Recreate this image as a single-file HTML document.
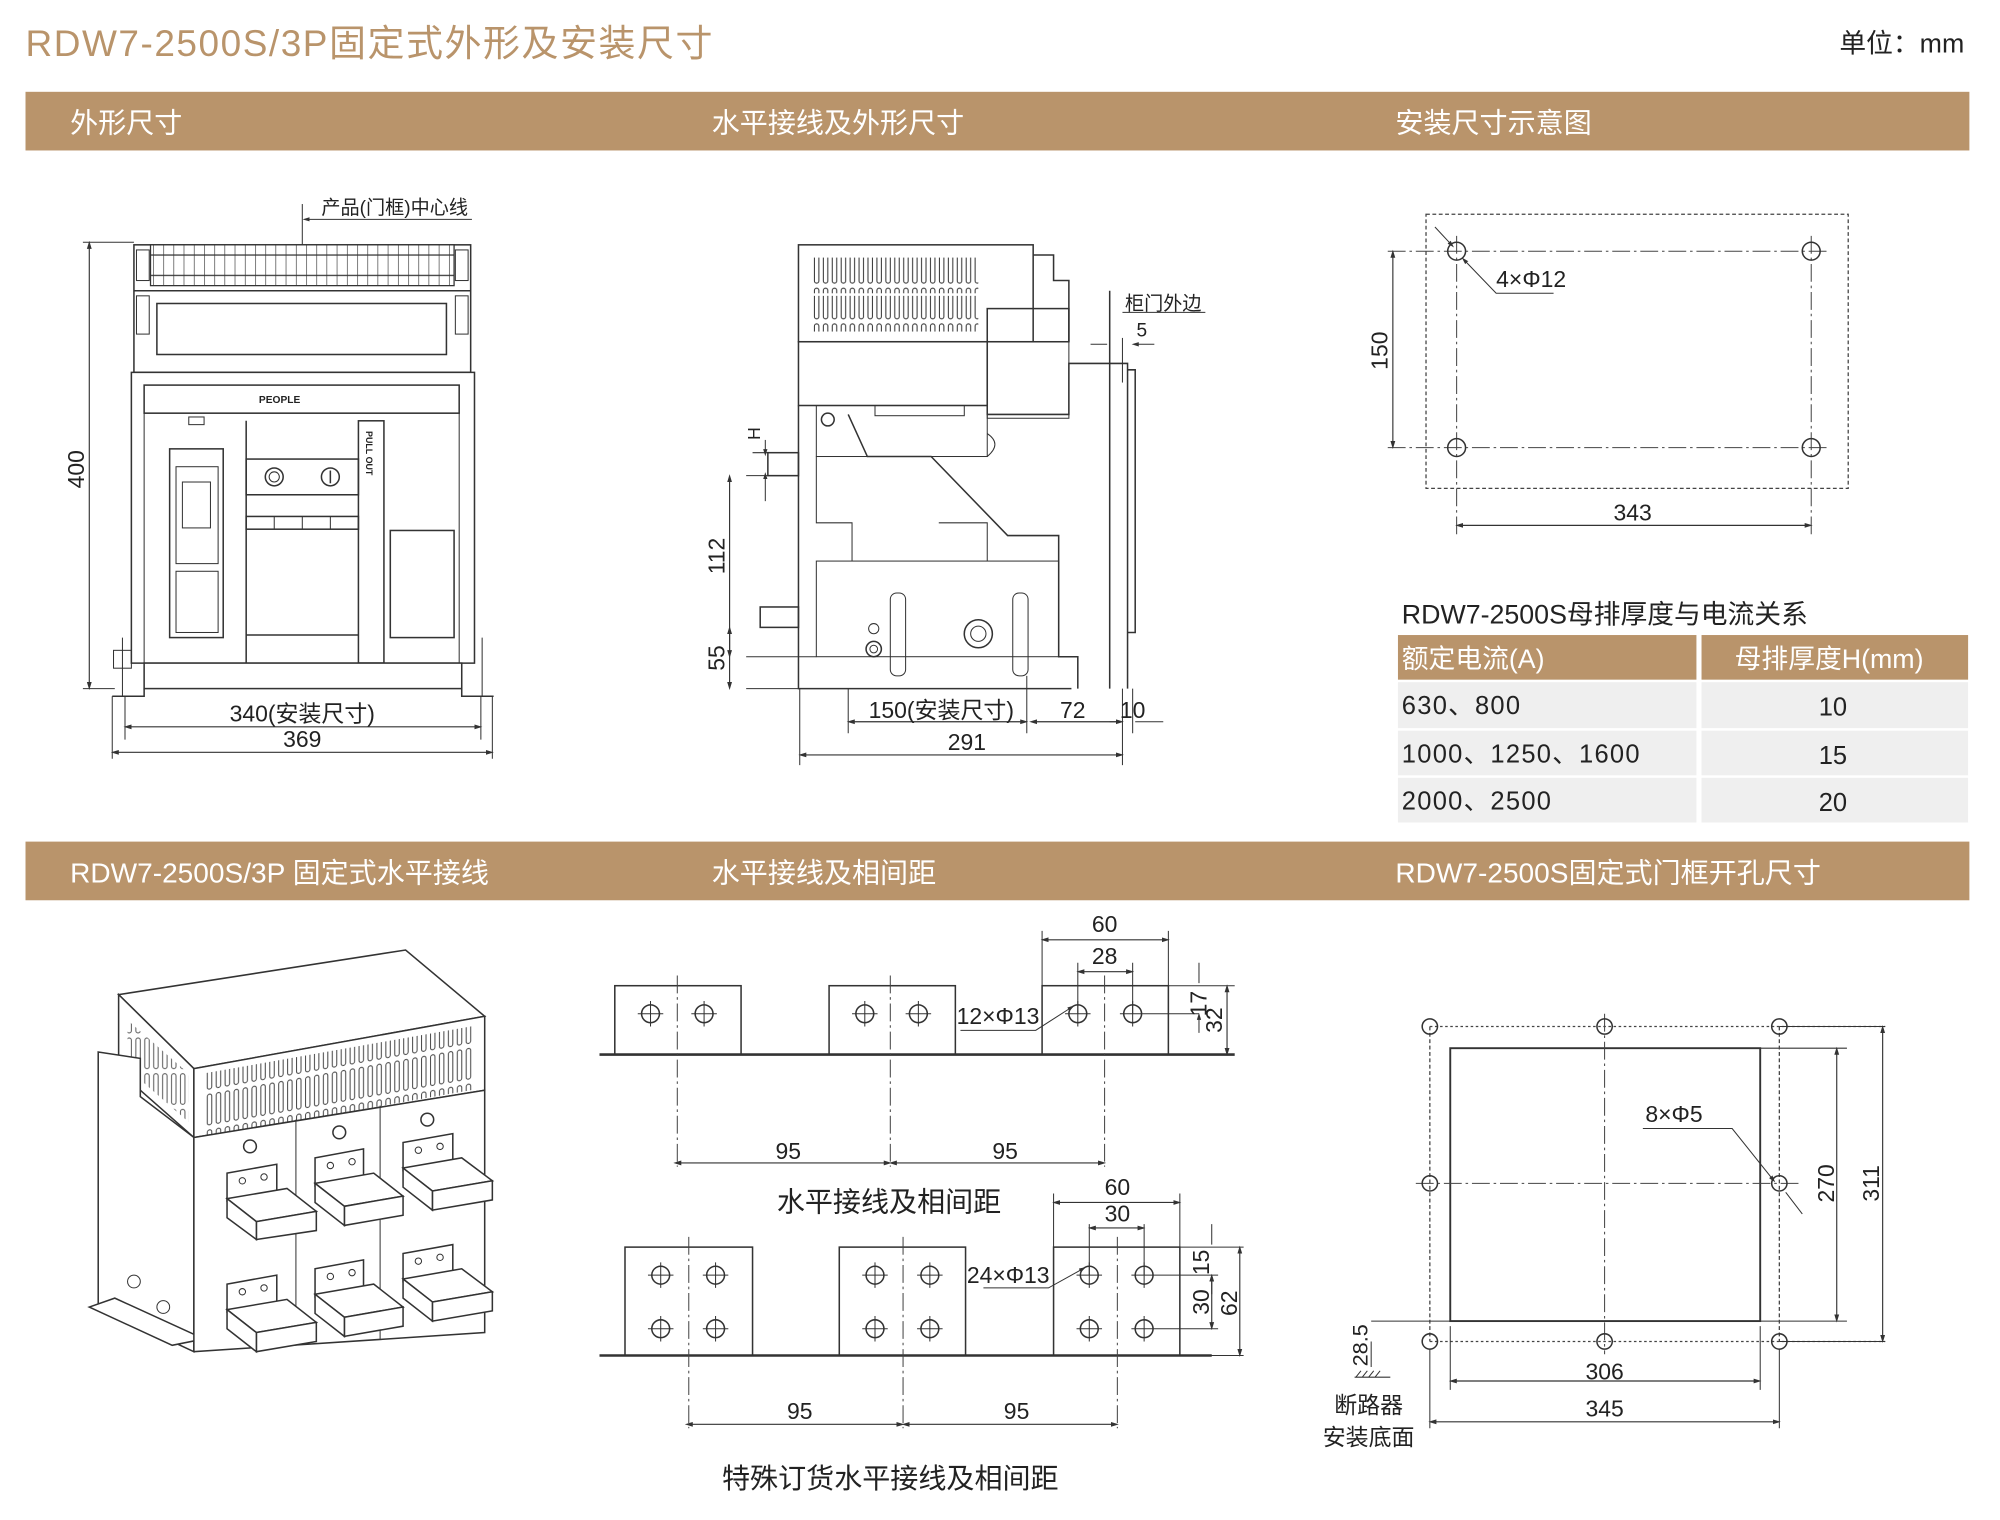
<!DOCTYPE html>
<html><head><meta charset="utf-8"><style>
html,body{margin:0;padding:0;background:#fff;}
svg{display:block;}
text{font-family:"Liberation Sans","Noto Sans CJK SC",sans-serif;fill:#222;}
.l{stroke:#333;stroke-width:1.2;fill:none;}
.lt{stroke:#333;stroke-width:0.8;fill:none;}
.f{stroke:#333;stroke-width:1.2;fill:#fff;}
.dd{stroke:#444;stroke-width:0.8;fill:none;stroke-dasharray:14 3 2 3;}
.ds{stroke:#444;stroke-width:1;fill:none;stroke-dasharray:3 2;}
.dim{stroke:#333;stroke-width:0.9;fill:none;marker-start:url(#a);marker-end:url(#a);}
.t{font-size:18px;}
</style></head><body>
<svg width="2000" height="1520" viewBox="0 0 1568 1192" preserveAspectRatio="none" xmlns="http://www.w3.org/2000/svg">
<defs>
<marker id="a" viewBox="0 0 10 10" refX="5" refY="5" markerWidth="7" markerHeight="7" orient="auto-start-reverse"><path d="M0,2 L10,5 L0,8 Z" fill="#333"/></marker>
<pattern id="grid" width="8" height="16" patternUnits="userSpaceOnUse"><rect width="8" height="16" fill="#fff"/><path d="M0,0V16M0,8H8" stroke="#333" stroke-width="1"/></pattern>
<pattern id="slot2" width="7" height="28" patternUnits="userSpaceOnUse"><rect x="1.5" y="2" width="3.5" height="24" rx="1.7" fill="none" stroke="#333" stroke-width="0.8"/></pattern>
</defs>

<text x="20" y="44" style="font-size:29px;fill:#b9946b;letter-spacing:1.2px">RDW7-2500S/3P固定式外形及安装尺寸</text>
<text x="1540" y="41" text-anchor="end" style="font-size:21px;">单位：mm</text>

<rect x="20" y="72" width="1524" height="46" fill="#b9946b"/>
<text x="55" y="104" style="font-size:22px;fill:#fff">外形尺寸</text>
<text x="558" y="104" style="font-size:22px;fill:#fff">水平接线及外形尺寸</text>
<text x="1094" y="104" style="font-size:22px;fill:#fff">安装尺寸示意图</text>
<rect x="20" y="660" width="1524" height="46" fill="#b9946b"/>
<text x="55" y="692" style="font-size:22px;fill:#fff">RDW7-2500S/3P  固定式水平接线</text>
<text x="558" y="692" style="font-size:22px;fill:#fff">水平接线及相间距</text>
<text x="1094" y="692" style="font-size:22px;fill:#fff">RDW7-2500S固定式门框开孔尺寸</text>

<!-- Front view -->
<g>
<rect x="105" y="192" width="264" height="100" class="f"/>
<rect x="118" y="192" width="238" height="32" fill="url(#grid)" stroke="#333"/>
<rect x="107" y="196" width="10" height="24" class="lt"/><rect x="357" y="196" width="10" height="24" class="lt"/>
<line x1="105" y1="228" x2="369" y2="228" class="l"/>
<rect x="123" y="238" width="227" height="40" class="l"/>
<rect x="107" y="232" width="10" height="30" class="lt"/><rect x="357" y="232" width="10" height="30" class="lt"/>
<path d="M103,292 H372 V520 H103 Z" class="f"/>
<rect x="113" y="302" width="247" height="22" class="l"/>
<text x="203" y="316" style="font-size:8px;font-weight:bold">PEOPLE</text>
<rect x="113" y="324" width="247" height="196" class="lt"/>
<rect x="133" y="352" width="42" height="148" class="l"/>
<rect x="138" y="366" width="33" height="76" class="lt"/>
<rect x="143" y="378" width="22" height="36" class="lt"/>
<rect x="138" y="448" width="33" height="48" class="lt"/>
<rect x="148" y="327" width="12" height="6" class="lt"/>
<rect x="193" y="360" width="88" height="28" class="l"/>
<circle cx="215" cy="374" r="7" class="l"/><circle cx="215" cy="374" r="4" class="lt"/>
<circle cx="259" cy="374" r="7" class="l"/><line x1="259" y1="369" x2="259" y2="379" class="l"/>
<rect x="193" y="405" width="88" height="10" class="l"/>
<line x1="215" y1="405" x2="215" y2="415" class="lt"/><line x1="237" y1="405" x2="237" y2="415" class="lt"/><line x1="259" y1="405" x2="259" y2="415" class="lt"/>
<line x1="193" y1="330" x2="193" y2="520" class="l"/>
<line x1="193" y1="498" x2="281" y2="498" class="l"/>
<rect x="281" y="330" width="20" height="190" class="l"/>
<text x="287" y="338" transform="rotate(90 287 338)" style="font-size:7px;font-weight:bold">PULL OUT</text>
<rect x="306" y="416" width="50" height="84" class="l"/>
<rect x="113" y="520" width="249" height="20" class="f"/>
<path d="M88,546 H113 V540 M362,540 V546 H387" class="l"/>
<path d="M96,546 V500 M378,546 V500" class="lt"/>
<rect x="89" y="510" width="14" height="14" class="lt"/>
<line x1="237" y1="160" x2="237" y2="192" class="lt"/>
<path d="M370,172 H240" class="lt" marker-end="url(#a)"/>
<text x="252" y="168" style="font-size:15px">产品(门框)中心线</text>
<path d="M65,190 H105 M65,540 H90" class="lt"/>
<line x1="70" y1="192" x2="70" y2="538" class="dim"/>
<text x="66" y="368" transform="rotate(-90 66 368)" text-anchor="middle" class="t">400</text>
<path d="M98,546 V580 M377,546 V580 M88,546 V595 M386,546 V595" class="lt"/>
<line x1="100" y1="570" x2="375" y2="570" class="dim"/>
<text x="237" y="566" text-anchor="middle" class="t">340(安装尺寸)</text>
<line x1="90" y1="590" x2="384" y2="590" class="dim"/>
<text x="237" y="586" text-anchor="middle" class="t">369</text>
</g>

<!-- Side view -->
<g>
<rect x="626" y="192" width="184" height="76" class="f"/>
<rect x="637" y="202" width="130" height="28" fill="url(#slot2)"/>
<rect x="637" y="232" width="130" height="28" fill="url(#slot2)"/>
<path d="M810,200 H826 V220 H838 V268" class="l"/>
<rect x="774" y="242" width="64" height="26" class="l"/>
<path d="M626,268 H774 V325 H838 V285 H884 V540" class="l"/>
<rect x="626" y="268" width="148" height="50" class="l"/>
<path d="M884,290 H890 V496 H884" class="l"/>
<rect x="774" y="268" width="64" height="60" class="lt"/>
<path d="M626,318 V540 H840" class="l"/>
<rect x="640" y="318" width="134" height="40" class="lt"/>
<rect x="686" y="318" width="70" height="8" class="lt"/>
<circle cx="649" cy="329" r="5" class="l"/>
<path d="M665,325 L680,358 H730 L790,420 H830 V515 H845 V540" class="l"/>
<path d="M640,358 V410 H668 V440 M736,410 H774 V440" class="lt"/>
<path d="M774,340 Q786,348 774,358" class="lt"/>
<rect x="640" y="440" width="190" height="75" class="lt"/>
<rect x="698" y="465" width="12" height="65" rx="5" class="lt"/>
<rect x="794" y="465" width="12" height="65" rx="5" class="lt"/>
<circle cx="685" cy="493" r="4" class="lt"/>
<circle cx="685" cy="509" r="6" class="l"/><circle cx="685" cy="509" r="3" class="lt"/>
<circle cx="767" cy="497" r="11" class="l"/><circle cx="767" cy="497" r="6" class="lt"/>
<rect x="602" y="355" width="24" height="18" class="l"/>
<rect x="596" y="476" width="30" height="16" class="l"/>
<line x1="870" y1="228" x2="870" y2="540" class="l"/>
<path d="M880,245 H945" class="lt"/>
<text x="882" y="243" style="font-size:15px">柜门外边</text>
<text x="891" y="264" style="font-size:15px">5</text>
<path d="M855,270 H868 M905,270 H890" class="lt" marker-end="url(#a)"/>
<path d="M880,265 V300" class="lt"/>
<path d="M585,373 H626 M585,515 H640 M585,540 H626 M590,355 H602" class="lt"/>
<text x="596" y="340" transform="rotate(-90 596 340)" text-anchor="middle" style="font-size:14px">H</text>
<line x1="600" y1="345" x2="600" y2="355" class="lt" marker-end="url(#a)"/>
<line x1="600" y1="393" x2="600" y2="373" class="lt" marker-end="url(#a)"/>
<line x1="572" y1="375" x2="572" y2="513" class="dim"/>
<text x="568" y="436" transform="rotate(-90 568 436)" text-anchor="middle" class="t">112</text>
<line x1="572" y1="494" x2="572" y2="538" class="dim"/>
<text x="568" y="516" transform="rotate(-90 568 516)" text-anchor="middle" class="t">55</text>
<path d="M665,540 V575 M805,530 V575 M880,540 V600 M627,540 V600 M888,540 V575" class="lt"/>
<line x1="667" y1="566" x2="803" y2="566" class="dim"/>
<text x="738" y="563" text-anchor="middle" class="t">150(安装尺寸)</text>
<line x1="810" y1="566" x2="878" y2="566" class="dim"/>
<text x="841" y="563" text-anchor="middle" class="t">72</text>
<path d="M870,566 H878 M912,566 H890" class="lt"/>
<text x="888" y="563" text-anchor="middle" class="t">10</text>
<line x1="629" y1="592" x2="878" y2="592" class="dim"/>
<text x="758" y="588" text-anchor="middle" class="t">291</text>
</g>

<!-- Install diagram -->
<g>
<rect x="1118" y="168" width="331" height="215" class="ds"/>
<path d="M1088,197 H1435 M1088,351 H1435 M1142,185 V420 M1420,185 V420" class="dd"/>
<circle cx="1142" cy="197" r="7" class="l"/><circle cx="1420" cy="197" r="7" class="l"/>
<circle cx="1142" cy="351" r="7" class="l"/><circle cx="1420" cy="351" r="7" class="l"/>
<line x1="1092" y1="199" x2="1092" y2="349" class="dim"/>
<text x="1088" y="275" transform="rotate(-90 1088 275)" text-anchor="middle" class="t">150</text>
<line x1="1144" y1="412" x2="1418" y2="412" class="dim"/>
<text x="1280" y="408" text-anchor="middle" class="t">343</text>
<path d="M1125,178 L1138,192" class="lt" marker-end="url(#a)"/>
<path d="M1218,230 H1173 L1148,204" class="lt" marker-end="url(#a)"/>
<text x="1173" y="225" class="t">4×Φ12</text>
</g>

<!-- Table -->
<text x="1099" y="489" style="font-size:21px">RDW7-2500S母排厚度与电流关系</text>
<rect x="1096" y="498" width="234" height="35" fill="#b9946b"/>
<rect x="1334" y="498" width="209" height="35" fill="#b9946b"/>
<text x="1099" y="524" style="font-size:21px;fill:#fff">额定电流(A)</text>
<text x="1434" y="524" text-anchor="middle" style="font-size:21px;fill:#fff">母排厚度H(mm)</text>
<rect x="1096" y="535" width="234" height="36" fill="#efefef"/><rect x="1334" y="535" width="209" height="36" fill="#efefef"/>
<rect x="1096" y="573" width="234" height="35" fill="#efefef"/><rect x="1334" y="573" width="209" height="35" fill="#efefef"/>
<rect x="1096" y="610" width="234" height="35" fill="#efefef"/><rect x="1334" y="610" width="209" height="35" fill="#efefef"/>
<text x="1099" y="560" style="font-size:20px;letter-spacing:1px">630、800</text>
<text x="1437" y="561" text-anchor="middle" style="font-size:20px">10</text>
<text x="1099" y="598" style="font-size:20px;letter-spacing:1px">1000、1250、1600</text>
<text x="1437" y="599" text-anchor="middle" style="font-size:20px">15</text>
<text x="1099" y="635" style="font-size:20px;letter-spacing:1px">2000、2500</text>
<text x="1437" y="636" text-anchor="middle" style="font-size:20px">20</text>

<!-- 3D view -->
<g>
<path d="M93,780 L318,745 L380,797 L152,838 Z" class="f"/>
<path d="M93,780 V840 L152,892 V838 Z" class="f"/>
<path d="M152,838 L380,797 V855 L152,892 Z" class="f"/>
<rect x="160" y="825" width="210" height="50" fill="url(#slot2)" transform="skewY(-10) translate(0,45)" opacity="0.9"/>
<path d="M100,800 L148,842 V880 L100,838 Z" fill="url(#slot2)" opacity="0.8"/>
<path d="M77,825 V1025 L152,1060 V892 L110,860 V830 Z" class="f"/>
<path d="M70,1025 L135,1055 L160,1050 L90,1018 Z" class="f"/>
<path d="M152,892 L380,855 V1045 L152,1060 Z" class="f"/>
<line x1="232" y1="878" x2="232" y2="1055" class="lt"/><line x1="298" y1="867" x2="298" y2="1050" class="lt"/>
<circle cx="196" cy="899" r="5" class="l"/><circle cx="266" cy="888" r="5" class="l"/><circle cx="335" cy="878" r="5" class="l"/>
<g class="f">
<path d="M178,920 L217,913 V935 L178,942 Z"/><path d="M178,940 L225,932 L248,950 L201,958 Z"/><path d="M201,958 L248,950 V965 L201,972 Z"/><path d="M178,940 V955 L201,972 V958 Z"/>
<path d="M247,908 L285,901 V923 L247,930 Z"/><path d="M247,928 L293,920 L316,938 L270,946 Z"/><path d="M270,946 L316,938 V953 L270,961 Z"/><path d="M247,928 V943 L270,961 V946 Z"/>
<path d="M316,896 L355,889 V911 L316,918 Z"/><path d="M316,916 L362,908 L386,926 L339,934 Z"/><path d="M339,934 L386,926 V941 L339,949 Z"/><path d="M316,916 V931 L339,949 V934 Z"/>
<path d="M178,1007 L217,1000 V1022 L178,1029 Z"/><path d="M178,1027 L225,1019 L248,1037 L201,1045 Z"/><path d="M201,1045 L248,1037 V1052 L201,1060 Z"/><path d="M178,1027 V1042 L201,1060 V1045 Z"/>
<path d="M247,995 L285,988 V1010 L247,1017 Z"/><path d="M247,1015 L293,1007 L316,1025 L270,1033 Z"/><path d="M270,1033 L316,1025 V1040 L270,1048 Z"/><path d="M247,1015 V1030 L270,1048 V1033 Z"/>
<path d="M316,983 L355,976 V998 L316,1005 Z"/><path d="M316,1003 L362,995 L386,1013 L339,1021 Z"/><path d="M339,1021 L386,1013 V1028 L339,1036 Z"/><path d="M316,1003 V1018 L339,1036 V1021 Z"/>
</g>
<g class="lt">
<circle cx="190" cy="926" r="2.5"/><circle cx="207" cy="923" r="2.5"/><circle cx="259" cy="914" r="2.5"/><circle cx="276" cy="911" r="2.5"/><circle cx="328" cy="902" r="2.5"/><circle cx="345" cy="899" r="2.5"/>
<circle cx="190" cy="1013" r="2.5"/><circle cx="207" cy="1010" r="2.5"/><circle cx="259" cy="1001" r="2.5"/><circle cx="276" cy="998" r="2.5"/><circle cx="328" cy="989" r="2.5"/><circle cx="345" cy="986" r="2.5"/>
</g>
<circle cx="105" cy="1005" r="5" class="lt"/><circle cx="128" cy="1025" r="5" class="lt"/>
</g>

<!-- Busbar 1 -->
<g>
<line x1="470" y1="827" x2="968" y2="827" stroke="#333" stroke-width="2"/>
<rect x="482" y="773" width="99" height="54" class="l"/>
<rect x="650" y="773" width="99" height="54" class="l"/>
<rect x="817" y="773" width="99" height="54" class="l"/>
<g class="l">
<circle cx="510" cy="795" r="7"/><circle cx="552" cy="795" r="7"/><circle cx="678" cy="795" r="7"/><circle cx="720" cy="795" r="7"/><circle cx="845" cy="795" r="7"/><circle cx="888" cy="795" r="7"/>
</g>
<path d="M500,795 H520 M542,795 H562 M668,795 H688 M710,795 H730 M835,795 H855 M878,795 H940 M510,785 V805 M552,785 V805 M678,785 V805 M720,785 V805 M845,785 V805 M888,785 V805" class="lt"/>
<path d="M531,765 V915 M698,765 V915 M866,765 V915" class="dd"/>
<path d="M817,730 V773 M916,730 V773 M845,755 V795 M888,755 V795 M916,773 H968" class="lt"/>
<line x1="819" y1="737" x2="914" y2="737" class="dim"/><text x="866" y="731" text-anchor="middle" class="t">60</text>
<line x1="847" y1="762" x2="886" y2="762" class="dim"/><text x="866" y="756" text-anchor="middle" class="t">28</text>
<line x1="531" y1="912" x2="696" y2="912" class="dim"/><text x="618" y="909" text-anchor="middle" class="t">95</text>
<line x1="700" y1="912" x2="864" y2="912" class="dim"/><text x="788" y="909" text-anchor="middle" class="t">95</text>
<path d="M940,755 V771 M940,810 V797" class="lt" marker-end="url(#a)"/>
<text x="946" y="787" transform="rotate(-90 946 787)" text-anchor="middle" class="t">17</text>
<line x1="962" y1="775" x2="962" y2="825" class="dim"/>
<text x="958" y="800" transform="rotate(-90 958 800)" text-anchor="middle" class="t">32</text>
<text x="750" y="803" class="t">12×Φ13</text>
<path d="M753,808 H812 L840,790" class="lt" marker-end="url(#a)"/>
<text x="697" y="950" text-anchor="middle" style="font-size:22px">水平接线及相间距</text>
</g>

<!-- Busbar 2 -->
<g>
<line x1="470" y1="1063" x2="950" y2="1063" stroke="#333" stroke-width="2"/>
<rect x="490" y="978" width="100" height="85" class="l"/>
<rect x="658" y="978" width="99" height="85" class="l"/>
<rect x="826" y="978" width="99" height="85" class="l"/>
<g class="l">
<circle cx="518" cy="1000" r="7"/><circle cx="561" cy="1000" r="7"/><circle cx="686" cy="1000" r="7"/><circle cx="729" cy="1000" r="7"/><circle cx="854" cy="1000" r="7"/><circle cx="897" cy="1000" r="7"/>
<circle cx="518" cy="1042" r="7"/><circle cx="561" cy="1042" r="7"/><circle cx="686" cy="1042" r="7"/><circle cx="729" cy="1042" r="7"/><circle cx="854" cy="1042" r="7"/><circle cx="897" cy="1042" r="7"/>
</g>
<path d="M518,990 V1010 M518,1032 V1052 M561,990 V1010 M561,1032 V1052 M686,990 V1010 M686,1032 V1052 M729,990 V1010 M729,1032 V1052 M854,990 V1010 M854,1032 V1052 M897,990 V1010 M897,1032 V1052 M508,1000 H528 M551,1000 H571 M676,1000 H696 M719,1000 H739 M844,1000 H864 M887,1000 H955 M508,1042 H528 M551,1042 H571 M676,1042 H696 M719,1042 H739 M844,1042 H864 M887,1042 H955" class="lt"/>
<path d="M540,970 V1120 M708,970 V1120 M876,970 V1120" class="dd"/>
<path d="M826,936 V978 M925,936 V978 M854,960 V1000 M897,960 V1000 M925,978 H975 M925,1063 H975" class="lt"/>
<line x1="828" y1="943" x2="923" y2="943" class="dim"/><text x="876" y="937" text-anchor="middle" class="t">60</text>
<line x1="856" y1="963" x2="895" y2="963" class="dim"/><text x="876" y="958" text-anchor="middle" class="t">30</text>
<line x1="540" y1="1117" x2="706" y2="1117" class="dim"/><text x="627" y="1113" text-anchor="middle" class="t">95</text>
<line x1="710" y1="1117" x2="874" y2="1117" class="dim"/><text x="797" y="1113" text-anchor="middle" class="t">95</text>
<path d="M950,960 V976 M950,1015 V1002" class="lt" marker-end="url(#a)"/>
<text x="948" y="990" transform="rotate(-90 948 990)" text-anchor="middle" class="t">15</text>
<line x1="950" y1="1002" x2="950" y2="1040" class="dim"/>
<text x="948" y="1021" transform="rotate(-90 948 1021)" text-anchor="middle" class="t">30</text>
<line x1="972" y1="980" x2="972" y2="1061" class="dim"/>
<text x="970" y="1022" transform="rotate(-90 970 1022)" text-anchor="middle" class="t">62</text>
<text x="758" y="1006" class="t">24×Φ13</text>
<path d="M771,1010 H822 L849,995" class="lt" marker-end="url(#a)"/>
<text x="698" y="1167" text-anchor="middle" style="font-size:22px">特殊订货水平接线及相间距</text>
</g>

<!-- Door frame -->
<g>
<path d="M1121,805 H1478 M1121,1052 H1478" class="ds" style="stroke-dasharray:2 2"/>
<path d="M1380,822 H1448 M1380,1036 H1448 M1395,805 H1478 M1395,1052 H1478" class="lt"/>
<path d="M1121,805 V1052 M1395,805 V1052" class="ds"/>
<rect x="1137" y="822" width="243" height="214" style="stroke:#333;stroke-width:1.5;fill:none"/>
<path d="M1258,795 V1062 M1110,928 H1410" class="dd"/>
<g class="l">
<circle cx="1121" cy="805" r="6"/><circle cx="1258" cy="805" r="6"/><circle cx="1395" cy="805" r="6"/>
<circle cx="1121" cy="928" r="6"/><circle cx="1395" cy="928" r="6"/>
<circle cx="1121" cy="1052" r="6"/><circle cx="1258" cy="1052" r="6"/><circle cx="1395" cy="1052" r="6"/>
</g>
<line x1="1440" y1="824" x2="1440" y2="1034" class="dim"/>
<text x="1438" y="928" transform="rotate(-90 1438 928)" text-anchor="middle" class="t">270</text>
<line x1="1476" y1="807" x2="1476" y2="1050" class="dim"/>
<text x="1473" y="928" transform="rotate(-90 1473 928)" text-anchor="middle" class="t">311</text>
<path d="M1137,1040 V1090 M1380,1040 V1090 M1121,1058 V1120 M1395,1058 V1120" class="lt"/>
<line x1="1139" y1="1083" x2="1378" y2="1083" class="dim"/><text x="1258" y="1082" text-anchor="middle" class="t">306</text>
<line x1="1123" y1="1115" x2="1393" y2="1115" class="dim"/><text x="1258" y="1111" text-anchor="middle" class="t">345</text>
<text x="1290" y="880" class="t">8×Φ5</text>
<path d="M1288,885 H1358 L1390,925" class="lt" marker-end="url(#a)"/>
<line x1="1400" y1="935" x2="1413" y2="952" class="lt"/>
<path d="M1075,1036 H1137 M1075,1052 V1072" class="lt"/>
<text x="1072" y="1055" transform="rotate(-90 1072 1055)" text-anchor="middle" style="font-size:17px">28.5</text>
<path d="M1063,1080 l4,-5 M1068,1080 l4,-5 M1073,1080 l4,-5 M1078,1080 l4,-5 M1062,1080 H1090" class="lt"/>
<text x="1073" y="1108" text-anchor="middle" class="t">断路器</text>
<text x="1073" y="1133" text-anchor="middle" class="t">安装底面</text>
</g>
</svg>
</body></html>
